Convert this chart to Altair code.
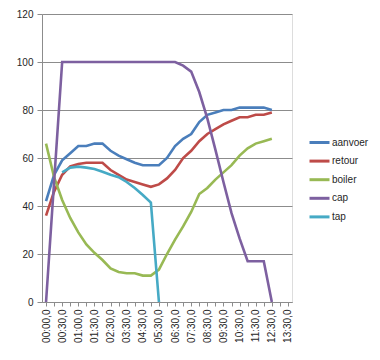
import altair as alt
import pandas as pd

# categories on the x axis (every other one labelled in the reference)
categories = ["00:00,0", "00:15,0", "00:30,0", "00:45,0", "01:00,0", "01:15,0", "01:30,0",
              "02:00,0", "02:30,0", "03:00,0", "03:30,0", "04:00,0", "04:30,0", "05:00,0",
              "05:30,0", "06:00,0", "06:30,0", "07:00,0", "07:30,0", "08:00,0", "08:30,0",
              "09:00,0", "09:30,0", "10:00,0", "10:30,0", "11:00,0", "11:30,0", "12:00,0",
              "12:30,0", "13:00,0", "13:30,0"]
labelled = categories[::2]

series_names = ["aanvoer", "retour", "boiler", "cap", "tap"]
series_colors = ["#4A7EBB", "#BE4B48", "#98B954", "#7D60A0", "#46AAC5"]

aanvoer = [42, 53, 59, 62, 65, 65, 66, 66, 63, 61, 59.5, 58, 57, 57, 57, 60, 65, 68, 70,
           75, 78, 79, 80, 80, 81, 81, 81, 81, 80]
retour = [36, 46, 53, 56.5, 57.5, 58, 58, 58, 55, 53, 51, 50, 49, 48, 49, 51.5, 55, 60, 63,
          67, 70, 72, 74, 75.5, 77, 77, 78, 78, 79]
boiler = [66, 52, 42.5, 35, 29, 24, 20.5, 17.5, 14, 12.5, 12, 12, 11, 11, 13.5, 20, 26, 31.5,
          37.5, 45, 47.5, 51, 54, 57, 61, 64, 66, 67, 68]
cap = [0, 50, 100, 100, 100, 100, 100, 100, 100, 100, 100, 100, 100, 100, 100, 100, 100, 98.5,
       96, 87.5, 76.5, 63.5, 50, 37, 26.5, 17, 17, 17, 0]
tap = [None, None, 54, 56, 56.4, 56, 55.4, 54.3, 53, 52, 50, 47.5, 44.6, 41.4, 0]

rows = []
for name, vals in zip(series_names, [aanvoer, retour, boiler, cap, tap]):
    for i, v in enumerate(vals):
        if v is not None:
            rows.append({"tijd": categories[i], "serie": name, "waarde": v})
df = pd.DataFrame(rows)

FONT = "Liberation Sans"
TXT = "#262626"
GRID = "#8C8C8C"

label_expr = "indexof([" + ",".join("'%s'" % c for c in labelled) + "], datum.value) >= 0 ? datum.label : ''"

chart = alt.Chart(df).mark_line(strokeWidth=2.6).encode(
    x=alt.X("tijd:N", sort=categories,
            scale=alt.Scale(type="point", domain=categories, padding=0.5),
            axis=alt.Axis(title=None, labelAngle=-90, labelExpr=label_expr, labelOverlap=False,
                          labelFontSize=10, labelFont=FONT, labelColor=TXT, labelPadding=3,
                          tickSize=4, tickColor=GRID, domainColor=GRID, grid=False)),
    y=alt.Y("waarde:Q", scale=alt.Scale(domain=[0, 120], nice=False, zero=True),
            axis=alt.Axis(title=None, values=[0, 20, 40, 60, 80, 100, 120],
                          labelFontSize=10, labelFont=FONT, labelColor=TXT, labelPadding=4,
                          tickSize=5, tickColor=GRID, domainColor=GRID,
                          grid=True, gridColor=GRID)),
    color=alt.Color("serie:N", sort=series_names,
                    scale=alt.Scale(domain=series_names, range=series_colors),
                    legend=alt.Legend(title=None, orient="none", legendX=266, legendY=117,
                                      symbolType="stroke", symbolSize=400, symbolStrokeWidth=3,
                                      labelFontSize=10, labelFont=FONT, labelColor=TXT,
                                      labelOffset=1, rowPadding=0.6)),
).properties(
    width=250, height=288,
    autosize=alt.AutoSizeParams(type="none"),
    padding={"left": 34, "top": 6, "right": 80, "bottom": 50},
).configure_view(stroke=None).configure(background="white")

chart.save("out.html", embed_options={"renderer": "svg", "actions": False})
